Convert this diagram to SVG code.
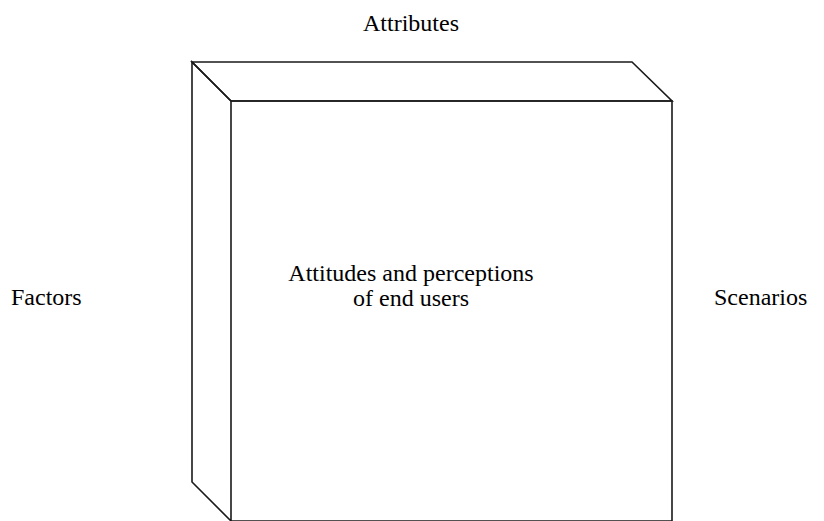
<svg xmlns="http://www.w3.org/2000/svg" width="824" height="521" viewBox="0 0 824 521">
<style>
.edge{fill:none;stroke:#1a1a1a;stroke-width:1.6;stroke-linejoin:miter}
.lbl{font-size:24px;fill:#000}
</style>
<rect width="824" height="521" fill="#fff"/>
<g id="cube">
<path class="edge" d="M192,62 L632,62 L672,101 L231,101 Z"/>
<path class="edge" d="M192,62 L192,482 L231,521 L231,101 Z"/>
<path class="edge" d="M231,101 L672,101 L672,521 L231,521"/>
</g>
<g font-family="Liberation Serif, Tinos, DejaVu Serif, serif">
<g id="attributes"><text class="lbl" x="411" y="31" text-anchor="middle">Attributes</text></g>
<g id="factors"><text class="lbl" x="11" y="305">Factors</text></g>
<g id="scenarios"><text class="lbl" x="714" y="305">Scenarios</text></g>
<g id="center"><text class="lbl" x="411" y="281" text-anchor="middle">Attitudes and perceptions</text><text class="lbl" x="411" y="306" text-anchor="middle">of end users</text></g>
</g>
</svg>
